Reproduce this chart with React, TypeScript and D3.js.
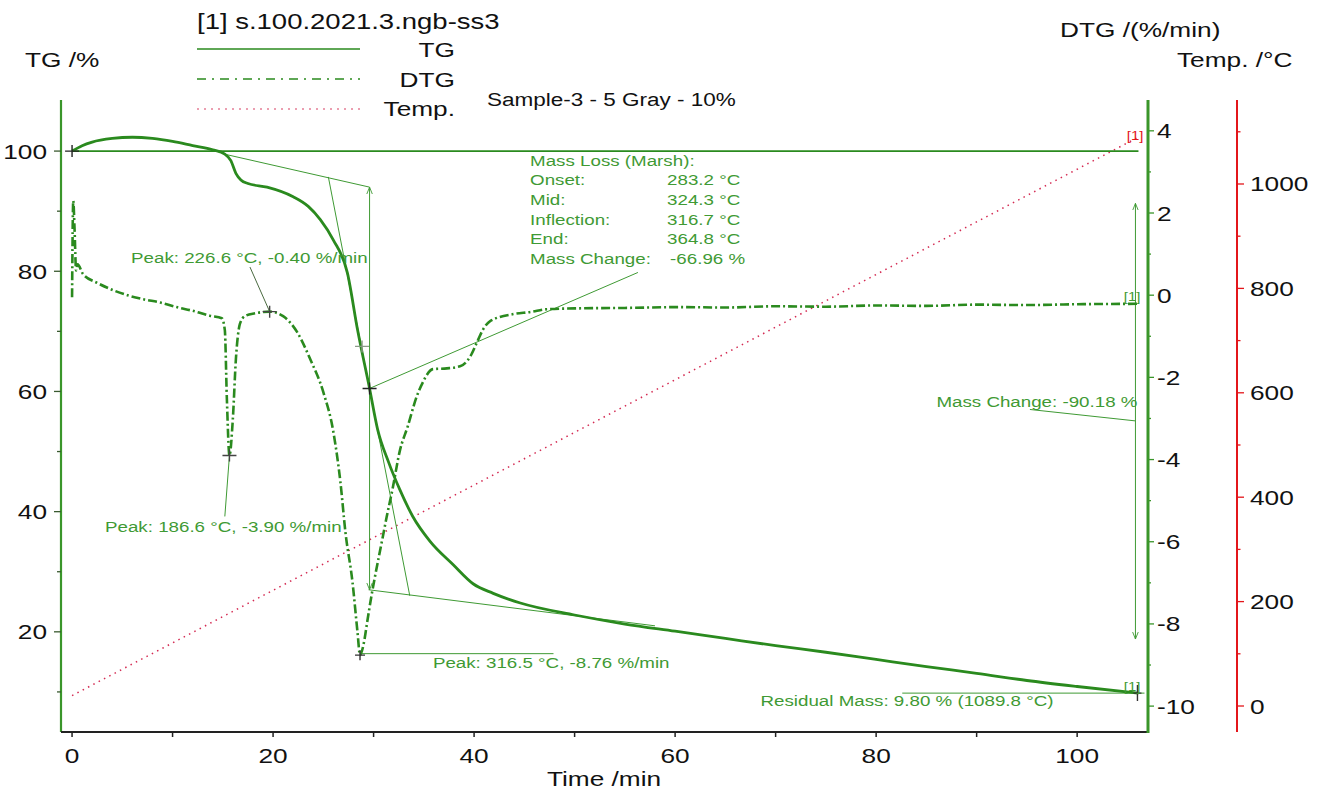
import React from "react";
import * as d3 from "d3";

const W = 1319;
const H = 791;

// TG curve: time /min and mass /%
const tgTime = [0, 1, 2, 4, 6, 8, 10, 12, 14, 15.2, 15.8, 16.3, 16.8, 17.5, 19.4, 22, 23.5, 24.7, 26, 27.4, 28.4, 29.6, 30.4, 31.5, 32.6, 33.9, 35.6, 37.9, 39.9, 41.9, 44.6, 50, 55, 60, 65, 70, 75, 80, 85, 90, 95, 100, 106.1];
const tgMass = [100, 100.9, 101.5, 102.1, 102.3, 102.1, 101.6, 100.9, 100.2, 99.5, 98.4, 96.3, 95.2, 94.6, 94.0, 92.4, 90.8, 88.6, 85.2, 79.7, 70.3, 60.5, 53.7, 48.2, 43.7, 39.2, 35.1, 31.2, 28.0, 26.4, 24.8, 22.8, 21.3, 20.1, 18.9, 17.7, 16.6, 15.4, 14.2, 13.1, 11.9, 10.9, 9.8];

// DTG curve: time /min and rate /(%/min)
const dtgTime = [0, 0.12, 0.25, 0.4, 0.55, 1.1, 2.5, 3.8, 5.5, 7.1, 8.8, 10.4, 12, 13.7, 14.9, 15.2, 15.4, 15.66, 16, 16.3, 16.7, 17.2, 18.2, 19.66, 21, 22.4, 23.7, 25, 26, 26.7, 27.2, 27.9, 28.4, 28.65, 29, 29.4, 29.8, 30.1, 30.9, 31.3, 31.9, 32.6, 33.4, 34.3, 34.9, 35.9, 37.3, 38.6, 39.6, 40.3, 40.9, 41.6, 43.9, 45.6, 47.3, 50.5, 55, 60.5, 65, 70, 75, 80, 85, 90, 95, 100, 106.1];
const dtgRate = [-0.05, 2.3, 1.6, 0.6, 0.75, 0.51, 0.3, 0.15, 0, -0.1, -0.18, -0.29, -0.38, -0.5, -0.56, -0.85, -2.5, -3.9, -3.0, -1.56, -0.7, -0.51, -0.44, -0.4, -0.51, -0.9, -1.56, -2.36, -3.33, -4.55, -5.77, -6.98, -8.2, -8.76, -8.5, -7.9, -7.3, -6.9, -5.9, -5.4, -4.7, -3.8, -3.19, -2.46, -2.12, -1.8, -1.78, -1.73, -1.5, -1.14, -0.83, -0.63, -0.46, -0.41, -0.34, -0.32, -0.31, -0.29, -0.3, -0.27, -0.28, -0.25, -0.26, -0.23, -0.24, -0.22, -0.21];

// temperature program
const tempTime = [0, 106.1];
const tempValue = [20, 1089.8];

const timeTicks = [0, 20, 40, 60, 80, 100];
const tgTicks = [20, 40, 60, 80, 100];
const dtgTicks = [4, 2, 0, -2, -4, -6, -8, -10];
const tempTicks = [0, 200, 400, 600, 800, 1000];

const lossLabels = ["Mass Loss (Marsh):", "Onset:", "Mid:", "Inflection:", "End:", "Mass Change:"];
const lossValues = ["", "283.2 °C", "324.3 °C", "316.7 °C", "364.8 °C", "-66.96 %"];

const FONT = "Arial, 'Liberation Sans', sans-serif";
const GREEN = "#2a8a1e";
const ANNO = "#3f9a34";
const AXIS_GREEN = "#3a962a";
const RED = "#e3161b";
const DOTS = "#d42a52";

const Txt = ({ x, y, size, anchor = "start", fill = "#111", children }: any) => (
  <text
    transform={`translate(${x},${y}) scale(1.25,1)`}
    fontSize={size}
    textAnchor={anchor}
    fill={fill}
    fontFamily={FONT}
  >
    {children}
  </text>
);

const Plus = ({ cx, cy, color = "#222", w = 7, h = 6 }: any) => (
  <path d={`M${cx - w},${cy}H${cx + w}M${cx},${cy - h}V${cy + h}`} stroke={color} strokeWidth={1.4} />
);

export default function App() {
  const x = d3.scaleLinear().domain([-1.1, 106.9]).range([61, 1146.5]);
  const yTG = d3.scaleLinear().domain([3.33, 108.5]).range([732, 100]);
  const yDTG = d3.scaleLinear().domain([-10.63, 4.75]).range([732, 100]);
  const yTemp = d3.scaleLinear().domain([-49.8, 1160.9]).range([732, 100]);

  const tgLine = d3.line<number>().x((_, i) => x(tgTime[i])).y((d) => yTG(d)).curve(d3.curveMonotoneX);
  const dtgLine = d3.line<number>().x((_, i) => x(dtgTime[i])).y((d) => yDTG(d)).curve(d3.curveMonotoneX);
  const tempLine = d3.line<number>().x((_, i) => x(tempTime[i])).y((d) => yTemp(d));

  const seg = (x1: number, y1: number, x2: number, y2: number) => `M${x1},${y1}L${x2},${y2}`;

  const xAxisY = 732;
  const leftX = 61;
  const dtgX = 1148;
  const tempX = 1237;

  return (
    <svg width={W} height={H} style={{ position: "absolute", left: 0, top: 0, background: "#fff" }}>
      <defs>
        <marker id="arr" viewBox="0 0 10 10" refX="10" refY="5" markerWidth="7" markerHeight="9" orient="auto-start-reverse">
          <path d="M0,1L10,5L0,9" fill="none" stroke={ANNO} strokeWidth={1.3} />
        </marker>
      </defs>

      {/* legend */}
      <Txt x={197} y={29} size={22}>[1] s.100.2021.3.ngb-ss3</Txt>
      <path d="M197,49H360" stroke={GREEN} strokeWidth={1.6} />
      <path d="M197,79H360" stroke={GREEN} strokeWidth={1.6} strokeDasharray="9 6 2 6" />
      <path d="M197,109H360" stroke={DOTS} strokeWidth={1.4} strokeDasharray="2 5" opacity={0.6} />
      <Txt x={455} y={57} size={21} anchor="end">TG</Txt>
      <Txt x={455} y={87} size={21} anchor="end">DTG</Txt>
      <Txt x={455} y={116} size={21} anchor="end">Temp.</Txt>
      <Txt x={487} y={106} size={18}>Sample-3 - 5 Gray - 10%</Txt>

      {/* axis titles */}
      <Txt x={25} y={67} size={21}>TG /%</Txt>
      <Txt x={1060} y={37} size={21}>DTG /(%/min)</Txt>
      <Txt x={1177} y={67} size={21}>Temp. /°C</Txt>
      <Txt x={604} y={786} size={21} anchor="middle">Time /min</Txt>

      {/* left TG axis */}
      <path d={`M${leftX},100V${xAxisY}`} stroke={AXIS_GREEN} strokeWidth={2.2} />
      {d3.range(10, 108, 10).map((v) => (
        <path key={"tgt" + v} d={`M${leftX},${yTG(v)}H${leftX - (v % 20 === 0 ? 7 : 4)}`} stroke="#3a5a30" strokeWidth={1.3} />
      ))}
      {tgTicks.map((v) => (
        <Txt key={"tgl" + v} x={47} y={yTG(v) + 7.5} size={21} anchor="end">{v}</Txt>
      ))}

      {/* bottom time axis */}
      <path d={`M${leftX},${xAxisY}H${dtgX}`} stroke="#222" strokeWidth={2.2} />
      {d3.range(0, 107, 10).map((v) => (
        <path key={"xt" + v} d={`M${x(v)},${xAxisY}V${xAxisY + 5}`} stroke="#222" strokeWidth={1.5} />
      ))}
      {timeTicks.map((v) => (
        <Txt key={"xl" + v} x={x(v)} y={763} size={21} anchor="middle">{v}</Txt>
      ))}

      {/* DTG axis */}
      <path d={`M${dtgX},100V${xAxisY + 1}`} stroke={AXIS_GREEN} strokeWidth={3} />
      {d3.range(-10, 5, 1).map((v) => (
        <path key={"dt" + v} d={`M${dtgX},${yDTG(v)}H${dtgX + (v % 2 === 0 ? 6 : 3)}`} stroke={AXIS_GREEN} strokeWidth={1.3} />
      ))}
      {dtgTicks.map((v) => (
        <Txt key={"dl" + v} x={1157} y={yDTG(v) + 7.5} size={21}>{v}</Txt>
      ))}

      {/* Temp axis */}
      <path d={`M${tempX},100V${xAxisY}`} stroke={RED} strokeWidth={2} />
      {d3.range(0, 1101, 100).map((v) => (
        <path key={"tt" + v} d={`M${tempX},${yTemp(v)}H${tempX + (v % 200 === 0 ? 7 : 3.5)}`} stroke={RED} strokeWidth={1.3} />
      ))}
      {tempTicks.map((v) => (
        <Txt key={"tl" + v} x={1250} y={yTemp(v) + 7.5} size={21}>{v}</Txt>
      ))}

      {/* temperature curve */}
      <path d={tempLine(tempValue) || ""} fill="none" stroke={DOTS} strokeWidth={1.5} strokeDasharray="1.5 4.5" />

      {/* annotation lines */}
      <g fill="none" stroke={ANNO} strokeWidth={1}>
        <path d={seg(x(0), yTG(100), x(106.1), yTG(100))} strokeWidth={1.6} stroke={GREEN} />
        <path d={seg(x(15.4), yTG(99.4), x(29.6), yTG(94.0))} />
        <path d={seg(x(25.5), yTG(95.7), x(33.6), yTG(26.0))} />
        <path d={seg(x(29.5), yTG(27.0), x(58), yTG(21.0))} />
        <path d={seg(x(29.6), yTG(94.0), x(29.6), yTG(27.0))} markerStart="url(#arr)" markerEnd="url(#arr)" />
        <path d={seg(x(29.6), yTG(60.5), x(56.3), yTG(79.8))} />
        <path d={seg(x(17.7), yTG(80.7), x(19.66), yDTG(-0.4))} stroke="#4a6a40" />
        <path d={seg(x(15.2), yTG(39.2), x(15.66), yDTG(-3.9))} />
        <path d={seg(x(28.65), yDTG(-8.76) - 1.5, x(47.9), yDTG(-8.76) - 1.5)} />
        <path d={seg(x(82.6), yTG(9.8), x(106.7), yTG(9.8))} />
        <path d={seg(x(95.3), yTG(57.0), x(105.8), yTG(55.1))} />
        <path d={seg(x(105.8), yTG(91.3), x(105.8), yTG(18.8))} markerStart="url(#arr)" markerEnd="url(#arr)" />
      </g>

      {/* DTG and TG curves */}
      <path d={dtgLine(dtgRate) || ""} fill="none" stroke={GREEN} strokeWidth={2.6} strokeDasharray="9 3 2 3" />
      <path d={tgLine(tgMass) || ""} fill="none" stroke={GREEN} strokeWidth={2.8} />

      {/* markers */}
      <Plus cx={x(0)} cy={yTG(100)} />
      <Plus cx={x(29.6)} cy={yTG(60.5)} />
      <Plus cx={x(28.85)} cy={yTG(67.5)} color="#8a9a88" />
      <Plus cx={x(15.66)} cy={yDTG(-3.9)} color="#444" />
      <Plus cx={x(19.66)} cy={yDTG(-0.4)} color="#444" />
      <Plus cx={x(28.65)} cy={yDTG(-8.76)} color="#333" w={5} h={5} />
      <Plus cx={x(106)} cy={yTG(9.8)} color="#333" w={4} h={8} />

      {/* annotation texts */}
      {lossLabels.map((s, i) => (
        <Txt key={"ll" + i} x={x(45.57)} y={yTG(97.6 - i * 3.28)} size={15} fill={ANNO}>{s}</Txt>
      ))}
      {lossValues.map((s, i) => (
        <Txt key={"lv" + i} x={x(i === 5 ? 59.5 : 59.2)} y={yTG(97.6 - i * 3.28)} size={15} fill={ANNO}>{s}</Txt>
      ))}
      <Txt x={x(5.87)} y={yTG(81.4)} size={15} fill={ANNO}>Peak: 226.6 °C, -0.40 %/min</Txt>
      <Txt x={x(3.28)} y={yTG(36.6)} size={15} fill={ANNO}>Peak: 186.6 °C, -3.90 %/min</Txt>
      <Txt x={x(35.9)} y={yTG(13.9)} size={15} fill={ANNO}>Peak: 316.5 °C, -8.76 %/min</Txt>
      <Txt x={x(68.5)} y={yTG(7.6)} size={15} fill={ANNO}>Residual Mass: 9.80 % (1089.8 °C)</Txt>
      <Txt x={x(106)} y={yTG(57.4)} size={15} fill={ANNO} anchor="end">Mass Change: -90.18 %</Txt>

      <Txt x={x(106.6)} y={yTemp(1085)} size={12} fill={RED} anchor="end">[1]</Txt>
      <Txt x={x(106.3)} y={yDTG(-0.15)} size={12} fill={ANNO} anchor="end">[1]</Txt>
      <Txt x={x(106.3)} y={yTG(10.1)} size={12} fill={ANNO} anchor="end">[1]</Txt>
    </svg>
  );
}
